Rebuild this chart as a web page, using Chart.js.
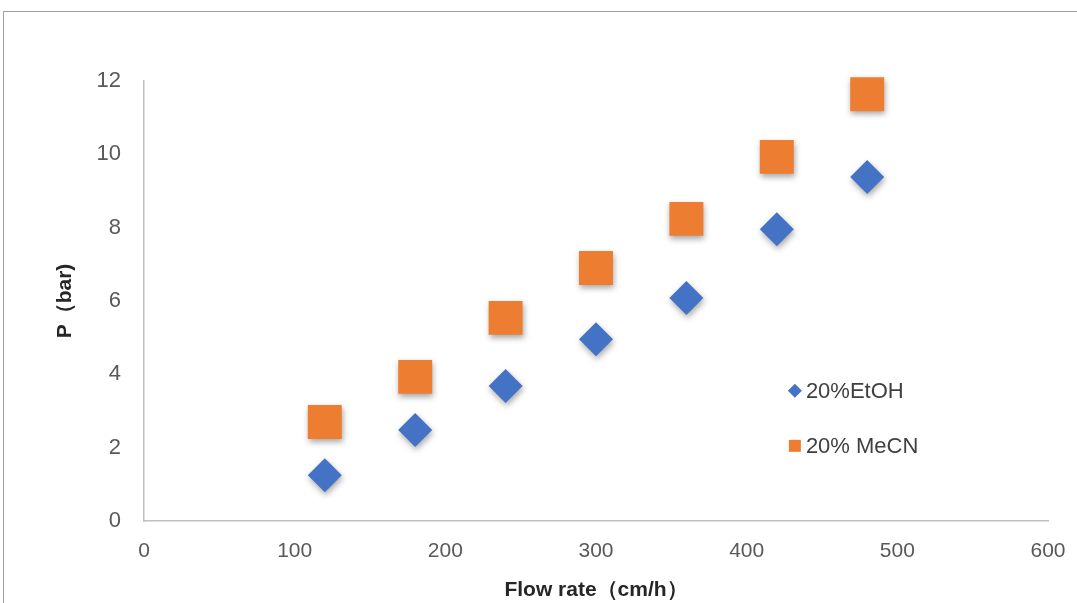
<!DOCTYPE html>
<html>
<head>
<meta charset="utf-8">
<script src="https://cdn.jsdelivr.net/npm/chart.js@4/dist/chart.umd.min.js"></script>
<style>
  html, body { margin: 0; padding: 0; background: #fff; }
  #frame { position: absolute; left: 3px; top: 11px; width: 1200px; height: 700px;
           border-left: 1px solid #a0a0a0; border-top: 1px solid #a0a0a0; }
  #wrap { position: absolute; left: 0; top: 0; width: 1077px; height: 603px; }
</style>
</head>
<body>
<div id="frame"></div>
<div id="wrap"><canvas id="chart"></canvas></div>
<script>
// flow rate (cm/h)
const flowRate = [120, 180, 240, 300, 360, 420, 480];
// pressure (bar)
const etoh = [1.25, 2.48, 3.68, 4.96, 6.08, 7.96, 9.38];
const mecn = [2.7, 3.93, 5.54, 6.9, 8.24, 9.93, 11.64];
const seriesNames = ['20%EtOH', '20% MeCN'];
const xTitle = 'Flow rate\uFF08cm/h\uFF09';
const yTitle = 'P\uFF08bar)';

const toPts = ys => flowRate.map((x, i) => ({ x: x, y: ys[i] }));

// soft drop shadow like the office chart
const shadowPlugin = {
  id: 'shadow',
  beforeDatasetsDraw(chart) {
    const ctx = chart.ctx;
    ctx.save();
    ctx.shadowColor = 'rgba(0,0,0,0.35)';
    ctx.shadowBlur = 6;
    ctx.shadowOffsetX = 1;
    ctx.shadowOffsetY = 3;
  },
  afterDatasetsDraw(chart) {
    chart.ctx.restore();
  }
};

// legend sitting inside the plot area
const innerLegend = {
  id: 'innerLegend',
  afterDraw(chart) {
    const ctx = chart.ctx;
    const xs = chart.scales.x, ys = chart.scales.y;
    const spots = [{ x: 432, y: 3.55 }, { x: 432, y: 2.05 }];
    chart.data.datasets.forEach((ds, i) => {
      const px = xs.getPixelForValue(spots[i].x);
      const py = ys.getPixelForValue(spots[i].y);
      ctx.save();
      ctx.fillStyle = ds.backgroundColor;
      ctx.beginPath();
      if (ds.pointStyle === 'rectRot') {
        ctx.moveTo(px, py - 7); ctx.lineTo(px + 7, py); ctx.lineTo(px, py + 7); ctx.lineTo(px - 7, py);
      } else {
        ctx.rect(px - 6, py - 6, 12, 12);
      }
      ctx.closePath();
      ctx.fill();
      ctx.fillStyle = '#404040';
      ctx.font = '22px "Liberation Sans", Arial, sans-serif';
      ctx.textBaseline = 'middle';
      ctx.textAlign = 'left';
      ctx.fillText(ds.label, px + 11, py + 1);
      ctx.restore();
    });
  }
};

new Chart(document.getElementById('chart'), {
  type: 'scatter',
  data: {
    datasets: [
      {
        label: seriesNames[0],
        data: toPts(etoh),
        pointStyle: 'rectRot',
        pointRadius: 17,
        pointHoverRadius: 17,
        backgroundColor: '#4472C4',
        borderColor: '#4472C4',
        borderWidth: 0,
        clip: false
      },
      {
        label: seriesNames[1],
        data: toPts(mecn),
        pointStyle: 'rect',
        pointRadius: 24,
        pointHoverRadius: 24,
        backgroundColor: '#ED7D31',
        borderColor: '#ED7D31',
        borderWidth: 0,
        clip: false
      }
    ]
  },
  options: {
    responsive: true,
    maintainAspectRatio: false,
    animation: false,
    layout: { padding: { top: 81, right: 29, left: 53, bottom: 0 } },
    plugins: {
      legend: { display: false },
      tooltip: { enabled: false }
    },
    scales: {
      x: {
        type: 'linear',
        min: 0,
        max: 600,
        ticks: { stepSize: 100, color: '#595959', padding: 10,
                 font: { family: '"Liberation Sans", Arial, sans-serif', size: 21 } },
        grid: { display: false },
        border: { display: true, color: '#bfbfbf', width: 1.5 },
        title: { display: true, text: xTitle, color: '#262626', padding: { top: 4, bottom: 0 },
                 font: { family: '"Liberation Sans", Arial, sans-serif', size: 21, weight: 'bold' } },
        afterFit(scale) { scale.height = 82; }
      },
      y: {
        min: 0,
        max: 12,
        ticks: { stepSize: 2, color: '#595959', padding: 15,
                 font: { family: '"Liberation Sans", Arial, sans-serif', size: 22 } },
        grid: { display: false },
        border: { display: true, color: '#bfbfbf', width: 1.5 },
        title: { display: true, text: yTitle, color: '#262626', padding: { top: 0, bottom: 8 },
                 font: { family: '"Liberation Sans", Arial, sans-serif', size: 21, weight: 'bold' } },
        afterFit(scale) { scale.width = 91; }
      }
    }
  },
  plugins: [shadowPlugin, innerLegend]
});
</script>
</body>
</html>
